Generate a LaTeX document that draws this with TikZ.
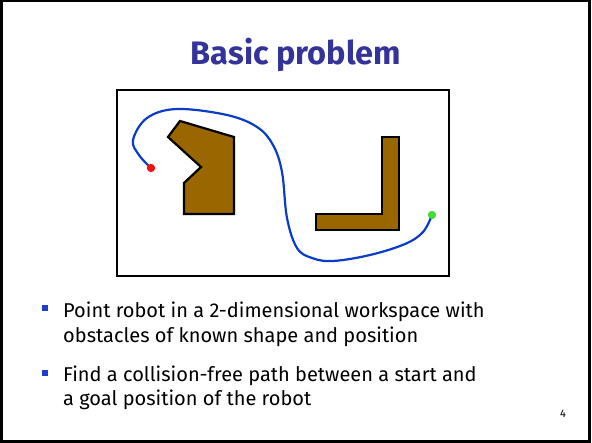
\documentclass[tikz,border=0pt]{standalone}
\usepackage{fontspec}
\setmainfont{Fira Sans}
\definecolor{titleblue}{HTML}{333399}
\definecolor{bulletblue}{HTML}{1A3FD0}
\definecolor{obst}{HTML}{996600}
\definecolor{pathblue}{HTML}{0A3CC8}
\definecolor{startred}{HTML}{F01010}
\definecolor{goalgreen}{HTML}{44DD33}
\begin{document}
\begin{tikzpicture}[x=1pt,y=-1pt,
  obstacle/.style={draw=black,line width=2.2pt,fill=obst,line join=miter},
  dotnode/.style={circle,inner sep=0pt,minimum size=8pt},
  bulletsq/.style={fill=bulletblue,inner sep=0pt,minimum size=6pt},
  bodytext/.style={anchor=base west,inner sep=0pt,font=\fontsize{20}{24}\selectfont},
  pathline/.style={draw=pathblue,line width=2.2pt}]
\useasboundingbox (0,0) rectangle (592,443);
\draw[line width=2.5pt] (1.25,1.25) rectangle (589.5,441.5);
% title
\node[anchor=base,inner sep=0pt,text=titleblue,font=\fontsize{32.5}{36}\selectfont\bfseries] (title) at (296,65) {Basic problem};
% workspace
\draw[line width=2pt] (117,90) rectangle (449,276.5);
\draw[obstacle] (180,121) -- (234,137) -- (234,214) -- (184,214) -- (184,183) -- (201,167) -- (168,137) -- cycle;
\draw[obstacle] (382,137) -- (399,137) -- (399,230) -- (316,230) -- (316,214) -- (382,214) -- cycle;
\node[dotnode,fill=startred] (start) at (151,168) {};
\node[dotnode,fill=goalgreen] (goal) at (432,215) {};
\draw[pathline] plot[smooth,tension=0.6] coordinates {(start.center) (139,155) (133,140) (147,118) (177,109) (227,115) (257,127) (273,145) (282,172) (287,218) (297,248) (312,258) (333,261) (370,255) (405,244) (423,232) (goal.center)};
\node[dotnode,fill=startred] at (start) {};
\node[dotnode,fill=goalgreen] at (goal) {};
% bullets
\node[bulletsq] (b1) at (45,308) {};
\node[bodytext] (t1) at (63,318) {Point robot in a 2-dimensional workspace with};
\node[bodytext] (t2) at (63,343) {obstacles of known shape and position};
\node[bulletsq] (b2) at (45,373) {};
\node[bodytext] (t3) at (63,382) {Find a collision-free path between a start and};
\node[bodytext] (t4) at (63,406) {a goal position of the robot};
\node[anchor=base,inner sep=0pt,font=\fontsize{11}{13}\selectfont] (pn) at (563,418) {4};
\end{tikzpicture}
\end{document}
